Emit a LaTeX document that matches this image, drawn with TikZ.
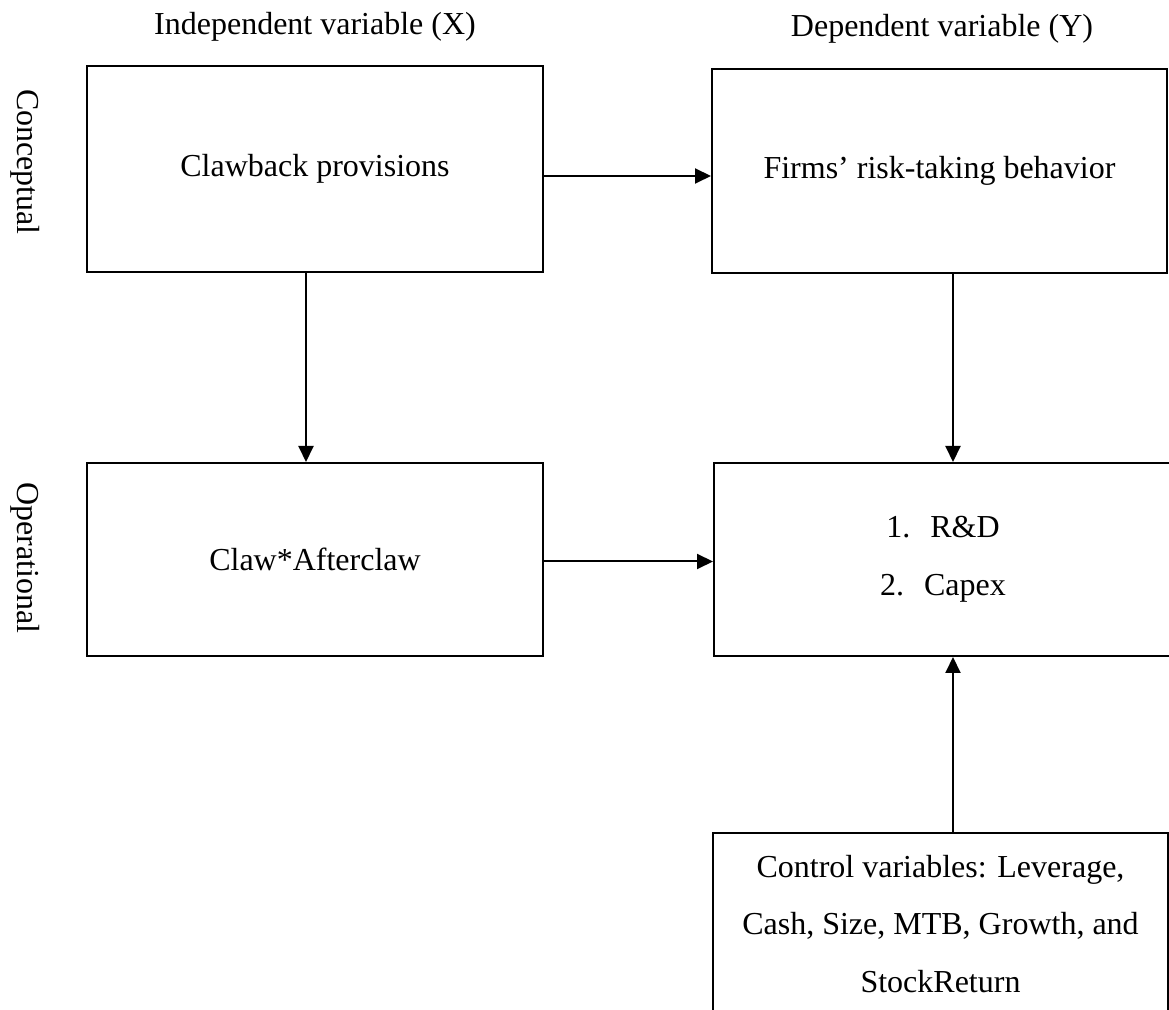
\documentclass[tikz,border=0pt]{standalone}
\usepackage{fontspec}
\setmainfont{Liberation Serif}
\usepackage{tikz}
\usetikzlibrary{arrows.meta}
\tikzstyle{varbox}=[rectangle, draw, line width=1pt, align=center, inner sep=0pt]
\tikzstyle{sidelabel}=[rotate=-90, inner sep=0pt]
\newcommand{\varbox}{\node[varbox]}

\begin{document}
\begin{tikzpicture}[x=0.5pt, y=-0.5pt,
    font=\fontsize{16}{28.75}\selectfont,
    every edge/.style={draw, line width=1pt, -{Triangle[length=8pt, width=7.5pt]}}
]
\useasboundingbox (0,0) rectangle (1169,1010);
\node (indep) at (315,27) {Independent variable (X)};
\node (dep) at (942,29) {Dependent variable (Y)};
\node[sidelabel] (concept) at (25,162) {Conceptual};
\node[sidelabel] (oper) at (25,558) {Operational};
\varbox[minimum width=228pt, minimum height=103pt] (claw) at (315,169) {Clawback provisions};
\varbox[minimum width=227.5pt, minimum height=102pt] (risk) at (939.5,171) {Firms' risk-taking behavior};
\varbox[minimum width=228pt, minimum height=96.5pt] (after) at (315,559.5) {Claw*Afterclaw};
\varbox[minimum width=229pt, minimum height=96.5pt] (rd) at (943,559.5) {1.\hspace{10pt}R\&D\\2.\hspace{10pt}Capex};
\varbox[minimum width=227.5pt, minimum height=91pt] (ctrl) at (940.5,924) {Control variables: Leverage,\\Cash, Size, MTB, Growth, and\\StockReturn};
\path
([yshift=-3.5pt]claw.east) edge ([yshift=-2.5pt]risk.west)
([xshift=-4.5pt]claw.south) edge ([xshift=-4.5pt]after.north)
([xshift=6.75pt]risk.south) edge ([xshift=5pt]rd.north)
([yshift=-1pt]after.east) edge ([yshift=-1pt]rd.west)
([xshift=6.25pt]ctrl.north) edge ([xshift=5pt]rd.south)
;
\end{tikzpicture}
\end{document}
